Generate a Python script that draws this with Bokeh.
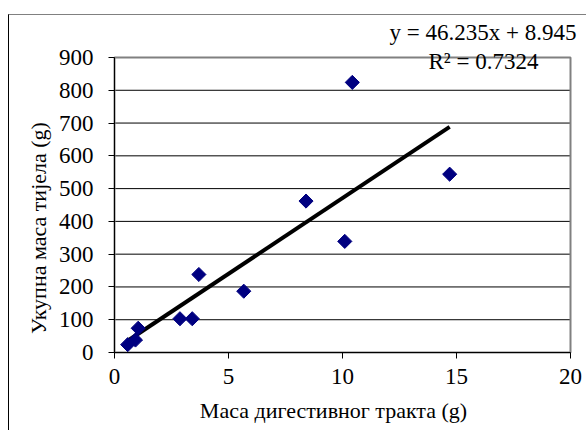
import numpy as np
from bokeh.plotting import figure
from bokeh.models import Label, Range1d, FixedTicker
from bokeh.core.properties import value
from bokeh.embed import file_html
from bokeh.resources import INLINE

# data
gut_mass = [0.58, 0.92, 1.04, 2.87, 3.41, 3.70, 5.67, 8.40, 10.10, 10.43, 14.70]
body_mass = [24, 38, 74, 103, 103, 238, 187, 462, 339, 824, 544]
slope = 46.235
intercept = 8.945
x_ticks = [0, 5, 10, 15, 20]
x_tick_labels = ["0", "5", "10", "15", "20"]
y_ticks = [0, 100, 200, 300, 400, 500, 600, 700, 800, 900]
y_tick_labels = ["0", "100", "200", "300", "400", "500", "600", "700", "800", "900"]
x_title = "Маса дигестивног тракта (g)"
y_title = "Укупна маса тијела (g)"
eq_text = "y = 46.235x + 8.945"
r2_text = "R² = 0.7324"

FONT = "Liberation Serif"

# layout (pixels on the canvas)
CW, CH = 577, 415                 # canvas size
PX0, PX1 = 105, 561               # canvas x of x_ticks[0], x_ticks[-1]
PY0, PY1 = 337, 42                # canvas y of y_ticks[0], y_ticks[-1]
sx = (x_ticks[-1] - x_ticks[0]) / (PX1 - PX0)   # data units per px
sy = (y_ticks[-1] - y_ticks[0]) / (PY0 - PY1)


def dx(px):
    return x_ticks[0] + (px - PX0) * sx


def dy(py):
    return y_ticks[0] + (PY0 - py) * sy


p = figure(frame_width=CW, frame_height=CH, output_backend="svg",
           toolbar_location=None,
           x_range=Range1d(dx(0), dx(CW)), y_range=Range1d(dy(CH), dy(0)),
           min_border_left=0, min_border_right=0, min_border_top=0,
           min_border_bottom=0)
p.styles = {"margin-left": "8px", "margin-top": "14px",
            "border-top": "1px solid #808080", "border-left": "1px solid #000000"}
p.background_fill_color = "white"
p.border_fill_color = "white"
p.outline_line_color = None
p.xgrid.visible = False
p.ygrid.visible = False

p.xaxis.ticker = FixedTicker(ticks=x_ticks)
p.yaxis.ticker = FixedTicker(ticks=y_ticks)
p.xaxis.bounds = (x_ticks[0], x_ticks[-1])
p.yaxis.bounds = (y_ticks[0], y_ticks[-1])
p.xaxis.fixed_location = y_ticks[0]
p.yaxis.fixed_location = x_ticks[0]
for ax in p.xaxis + p.yaxis:
    ax.axis_line_color = "black"
    ax.major_tick_line_color = "black"
    ax.major_tick_in = 0
    ax.major_tick_out = 6
    ax.minor_tick_line_color = None
    ax.major_label_text_color = None

# horizontal gridlines and plot-area outline
p.segment(x0=x_ticks[0], x1=x_ticks[-1], y0=y_ticks, y1=y_ticks,
          line_color="black", line_width=1)
p.quad(left=x_ticks[0], right=x_ticks[-1], bottom=y_ticks[0], top=y_ticks[-1],
       fill_color=None, line_color="#808080", line_width=2)

# tick labels
p.text(x=x_ticks, y=[y_ticks[0]] * len(x_ticks), text=x_tick_labels,
       text_align="center", text_baseline="top", y_offset=16,
       text_font=value(FONT), text_font_size="23px", text_color="black")
p.text(x=[x_ticks[0]] * len(y_ticks), y=y_ticks, text=y_tick_labels,
       text_align="right", text_baseline="middle", x_offset=-21,
       text_font=value(FONT), text_font_size="23px", text_color="black")

# trendline
xl = np.array([min(gut_mass), max(gut_mass)])
p.line(xl, slope * xl + intercept, line_color="black", line_width=4)

# points
p.scatter(gut_mass, body_mass, marker="square", size=10, angle=np.pi / 4,
          fill_color="#000080", line_color="#000080")

# axis titles
p.add_layout(Label(x=dx(324), y=dy(394.5), text=x_title, text_align="center",
                   text_baseline="middle", text_font=FONT,
                   text_font_size="22px", text_color="black"))
p.add_layout(Label(x=dx(28.5), y=dy(212.5), text=y_title, angle=np.pi / 2,
                   text_align="center", text_baseline="middle",
                   text_font=FONT, text_font_size="22px", text_color="black"))

# equation
p.add_layout(Label(x=dx(473.5), y=dy(17), text=eq_text, text_align="center",
                   text_baseline="middle", text_font=FONT,
                   text_font_size="23px", text_color="black"))
p.add_layout(Label(x=dx(474), y=dy(46), text=r2_text, text_align="center",
                   text_baseline="middle", text_font=FONT,
                   text_font_size="23px", text_color="black"))

open("out.html", "w").write(file_html(p, INLINE))
